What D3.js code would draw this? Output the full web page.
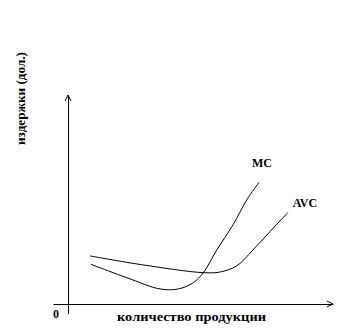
<!DOCTYPE html>
<html><head><meta charset="utf-8">
<script src="https://cdn.jsdelivr.net/npm/d3@7"></script>
<style>
html,body{margin:0;padding:0;background:#fff;}
svg{display:block;}
text{font-family:"Liberation Serif","Times New Roman",serif;font-weight:bold;fill:#000;}
</style></head>
<body>
<script>
const xLabel = "количество продукции";
const yLabel = "издержки (дол.)";
const originLabel = "0";
const seriesNames = ["MC", "AVC"];
const avcQ = [0.83, 2.77, 5.08, 5.71, 6.34, 6.95, 7.59, 8.26];
const avcC = [2.30, 1.88, 1.50, 1.53, 1.82, 2.58, 3.46, 4.37];
const mcQ = [0.86, 2.21, 3.46, 4.15, 4.71, 5.09, 5.59, 6.20, 6.72, 7.18];
const mcC = [1.90, 1.26, 0.72, 0.72, 1.02, 1.50, 2.58, 3.78, 4.98, 5.82];

const W = 344, H = 329;
const svg = d3.select("body").append("svg").attr("width", W).attr("height", H);
const x = d3.scaleLinear().domain([0, 10]).range([68, 334]);
const y = d3.scaleLinear().domain([0, 10]).range([304, 95]);

// axes
const xAxisScale = d3.scaleLinear().domain([-0.56, 9.96]).range([x(-0.56), x(9.96)]);
svg.append("g").attr("transform", `translate(0,${y(0)})`)
  .call(d3.axisBottom(xAxisScale).tickValues([]).tickSizeOuter(0))
  .select(".domain").attr("stroke", "#000").attr("stroke-width", 1);
const yAxisScale = d3.scaleLinear().domain([-0.45, 10]).range([y(-0.45), y(10)]);
svg.append("g").attr("transform", `translate(${x(0)},0)`)
  .call(d3.axisLeft(yAxisScale).tickValues([]).tickSizeOuter(0))
  .select(".domain").attr("stroke", "#000").attr("stroke-width", 1);

// arrowheads
svg.append("path")
  .attr("d", `M${x(9.96)-6},${y(0)-3} L${x(9.96)},${y(0)} L${x(9.96)-6},${y(0)+3}`)
  .attr("fill", "none").attr("stroke", "#000");
svg.append("path")
  .attr("d", `M${x(0)-3},${y(10)+6} L${x(0)},${y(10)} L${x(0)+3},${y(10)+6}`)
  .attr("fill", "none").attr("stroke", "#000");

// curves
const line = d3.line().x(d => x(d[0])).y(d => y(d[1])).curve(d3.curveCatmullRom);
svg.append("path").datum(avcQ.map((q, i) => [q, avcC[i]]))
  .attr("d", line).attr("fill", "none").attr("stroke", "#000").attr("stroke-width", 1);
svg.append("path").datum(mcQ.map((q, i) => [q, mcC[i]]))
  .attr("d", line).attr("fill", "none").attr("stroke", "#000").attr("stroke-width", 1);

// series labels
svg.append("text").attr("x", x(mcQ[mcQ.length-1]) - 7).attr("y", y(mcC[mcC.length-1]) - 15)
  .attr("font-size", 12).text(seriesNames[0]);
svg.append("text").attr("x", x(avcQ[avcQ.length-1]) + 5).attr("y", y(avcC[avcC.length-1]) - 6)
  .attr("font-size", 12).text(seriesNames[1]);

// axis labels
svg.append("text").attr("x", 56).attr("y", 318).attr("text-anchor", "middle")
  .attr("font-size", 12).text(originLabel);
svg.append("text").attr("x", 117).attr("y", 321)
  .attr("font-size", 13).attr("textLength", 149).attr("lengthAdjust", "spacingAndGlyphs")
  .text(xLabel);
svg.append("text").attr("transform", "translate(25,145) rotate(-90)")
  .attr("font-size", 13).attr("textLength", 93).attr("lengthAdjust", "spacingAndGlyphs")
  .text(yLabel);
</script>
</body></html>
